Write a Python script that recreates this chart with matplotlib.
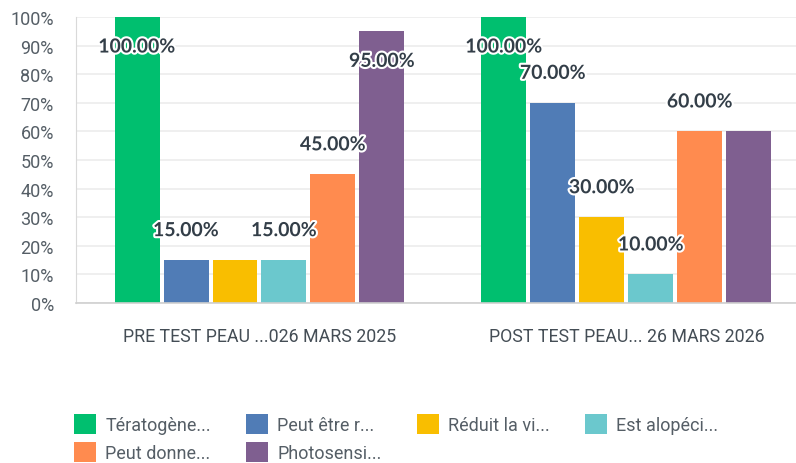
import matplotlib
matplotlib.use("Agg")
import matplotlib.pyplot as plt
import matplotlib.patheffects as pe
from matplotlib.patches import FancyBboxPatch
from matplotlib.legend_handler import HandlerPatch
import numpy as np

groups = ["PRE TEST PEAU ...026 MARS 2025", "POST TEST PEAU... 26 MARS 2026"]
series = ["Tératogène...", "Peut être r...", "Réduit la vi...", "Est alopéci...",
          "Peut donne...", "Photosensi..."]
colors = ["#00bf6f", "#507cb6", "#f9be00", "#6bc8cd", "#ff8b4f", "#7f5f90"]
pre_vals = [100, 15, 15, 15, 45, 95]
post_vals = [100, 70, 30, 10, 60, 60]
# which data labels the original shows (overlapping ones are hidden)
pre_show = [True, True, False, True, True, True]
post_show = [True, True, True, True, True, False]

values = np.array([pre_vals, post_vals])
shown = np.array([pre_show, post_show])

fig = plt.figure(figsize=(7.96, 4.64), dpi=100)
ax = fig.add_axes([0.0955, 0.3448, 0.9045, 0.6164])

x = np.arange(len(groups))
step = 0.1335
width = 0.1226
offs = (np.arange(len(series)) - 2.5) * step

for i, name in enumerate(series):
    ax.bar(x + offs[i], values[:, i], width, color=colors[i], label=name, zorder=2)
    for g in range(len(groups)):
        if not shown[g, i]:
            continue
        v = values[g, i]
        ty = v + 10.3 if v + 10.3 <= 97 else v - 10.5
        ax.text(x[g] + offs[i], ty, f"{v:.2f}%", ha="center", va="center",
                fontsize=14, fontweight="bold", color="#333e48", family="Lato",
                zorder=4, path_effects=[pe.withStroke(linewidth=3, foreground="white")])

ax.set_xlim(-0.5, 1.462)
ax.set_ylim(0, 100)
ax.set_yticks(np.arange(0, 101, 10))
ax.set_yticklabels([f"{t}%" for t in range(0, 101, 10)])
ax.set_xticks(x)
ax.set_xticklabels(groups)
ax.yaxis.grid(True, color="#ececec", linewidth=1.2, zorder=0)
ax.set_axisbelow(True)
ax.tick_params(axis="y", length=0, pad=16, labelsize=13, labelcolor="#555e66")
ax.tick_params(axis="x", length=0, pad=17, labelsize=12.8, labelcolor="#444d55")
for lbl in ax.get_xticklabels() + ax.get_yticklabels():
    lbl.set_family("Roboto")
for s in ["top", "right"]:
    ax.spines[s].set_visible(False)
ax.spines["left"].set_color("#d9d9d9")
ax.spines["bottom"].set_color("#cfcfcf")
ax.spines["bottom"].set_linewidth(1.2)


def rounded(legend, orig_handle, xdescent, ydescent, width, height, fontsize):
    return FancyBboxPatch((-xdescent, -ydescent), width, height,
                          boxstyle="round,pad=0,rounding_size=3")


handles, labels = ax.get_legend_handles_labels()
order = [0, 4, 1, 5, 2, 3]
leg = fig.legend([handles[k] for k in order], [labels[k] for k in order],
                 ncol=4, loc="upper left", bbox_to_anchor=(0.073, 0.14),
                 frameon=False, handlelength=1.22, handleheight=1.33,
                 handletextpad=0.5, columnspacing=1.95, labelspacing=0.4,
                 handler_map={plt.Rectangle: HandlerPatch(patch_func=rounded)},
                 prop={"family": "Roboto", "size": 13})
for t in leg.get_texts():
    t.set_color("#555e66")

fig.savefig("out.png", dpi=100)
